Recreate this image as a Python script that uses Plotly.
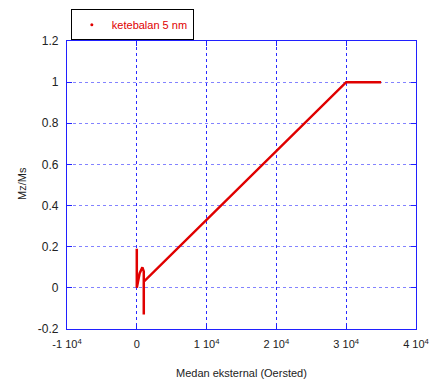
import plotly.graph_objects as go

# data
field = [0, 0, 400, 800, 1000, 1000, 1000, 30000, 35000]
mz_ms = [0.19, 0.0, 0.07, 0.10, 0.08, -0.13, 0.03, 1.0, 1.0]

x_tickvals = [-10000, 0, 10000, 20000, 30000, 40000]
x_ticktext = ["-1 10<sup>4</sup>", "0", "1 10<sup>4</sup>", "2 10<sup>4</sup>",
              "3 10<sup>4</sup>", "4 10<sup>4</sup>"]
y_tickvals = [-0.2, 0, 0.2, 0.4, 0.6, 0.8, 1, 1.2]
y_ticktext = ["-0.2", "0", "0.2", "0.4", "0.6", "0.8", "1", "1.2"]

series_name = "ketebalan 5 nm"
x_title = "Medan eksternal (Oersted)"
y_title = "Mz/Ms"

fig = go.Figure()
fig.add_trace(go.Scatter(
    x=field, y=mz_ms, mode="lines", name=series_name, showlegend=False,
    line=dict(color="#e00000", width=2.5),
))
fig.add_trace(go.Scatter(
    x=[None], y=[None], mode="markers", name=series_name, showlegend=True,
    marker=dict(size=3, color="#e00000"),
))

font = "Liberation Sans, Arial, sans-serif"
axis_common = dict(
    showline=True, linecolor="#2020ff", linewidth=1.3, mirror="ticks",
    ticks="inside", ticklen=5, tickcolor="#2020ff",
    showgrid=True, griddash="dot", gridwidth=1,
    zeroline=False,
    automargin=False, ticklabelstandoff=5, ticklabeloverflow="allow",
)
fig.update_xaxes(range=[-10000, 40000], tickvals=x_tickvals, ticktext=x_ticktext,
                 tickfont=dict(family=font, size=11, color="#222"),
                 gridcolor="rgba(20,20,255,0.9)", **axis_common)
fig.update_yaxes(range=[-0.2, 1.2], tickvals=y_tickvals, ticktext=y_ticktext,
                 tickfont=dict(family=font, size=12, color="#222"),
                 gridcolor="rgba(90,90,255,0.75)", **axis_common)

fig.add_annotation(text=x_title, xref="paper", yref="paper", x=0.5, y=-0.153,
                   showarrow=False, xanchor="center", yanchor="middle",
                   font=dict(family=font, size=11, color="#222"))
fig.add_annotation(text=y_title, xref="paper", yref="paper", x=-0.129, y=0.507,
                   showarrow=False, xanchor="center", yanchor="middle", textangle=-90,
                   font=dict(family=font, size=11, color="#222"))

fig.update_layout(
    width=430, height=381,
    margin=dict(l=67, r=14, t=41, b=52, autoexpand=False),
    paper_bgcolor="white", plot_bgcolor="white",
    showlegend=True,
    legend=dict(x=0.011, y=1.11, xanchor="left", yanchor="top",
                bordercolor="black", borderwidth=1, bgcolor="white",
                font=dict(family=font, size=11, color="#e00000"),
                entrywidth=100, entrywidthmode="pixels",
                ),
)
fig.write_html("out.html", config={"displayModeBar": False},
               post_script="document.body.style.margin='0';document.body.style.overflow='hidden';")
